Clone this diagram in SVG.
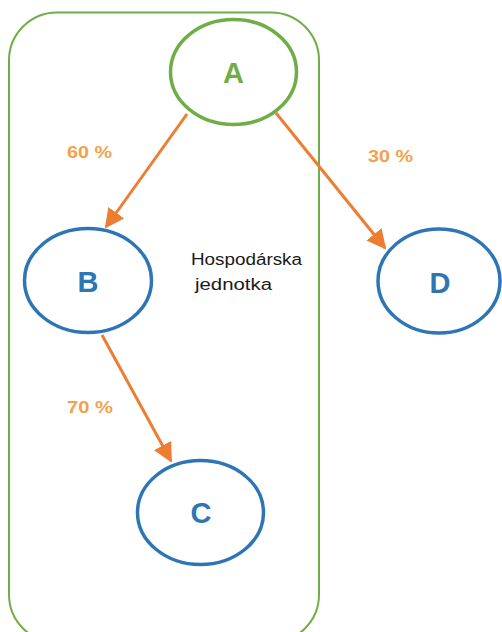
<svg xmlns="http://www.w3.org/2000/svg" width="502" height="632" viewBox="0 0 502 632">
<style>
.node-a{fill:#fff;stroke:#70AD47;stroke-width:3.5}
.node-b{fill:#fff;stroke:#2E75B6;stroke-width:3.5}
.lt{font-family:"Liberation Sans",Arial,sans-serif;font-weight:bold;font-size:29px;text-anchor:middle}
.pct{font-family:"Liberation Sans",Arial,sans-serif;font-weight:bold;font-size:17px;fill:#F5A04A}
.note{font-family:"Liberation Sans",Arial,sans-serif;font-size:16px;fill:#1a1a1a}
.edge{stroke:#ED7D31;stroke-width:3;fill:none;marker-end:url(#arr)}
</style>
<defs>
<marker id="arr" viewBox="0 0 10 10" refX="9" refY="5" markerWidth="6.5" markerHeight="6.5" markerUnits="strokeWidth" orient="auto">
<path d="M0,0 L10,5 L0,10 z" fill="#ED7D31"/>
</marker>
</defs>
<rect width="502" height="632" fill="#fff"/>
<g id="unit">
<rect x="9" y="12.5" width="310" height="630" rx="48" ry="48" fill="none" stroke="#70AD47" stroke-width="2"/>
<text class="note" x="191" y="265" textLength="111" lengthAdjust="spacingAndGlyphs">Hospodárska</text>
<text class="note" x="195" y="290" textLength="77" lengthAdjust="spacingAndGlyphs">jednotka</text>
</g>
<g id="connectors">
<line class="edge" x1="187" y1="114" x2="106" y2="227"/>
<line class="edge" x1="276" y1="113" x2="385" y2="248"/>
<line class="edge" x1="102" y1="335" x2="171" y2="461"/>
<text class="pct" x="67" y="158" textLength="45" lengthAdjust="spacingAndGlyphs">60 %</text>
<text class="pct" x="368" y="162" textLength="45" lengthAdjust="spacingAndGlyphs">30 %</text>
<text class="pct" x="67" y="413" textLength="46" lengthAdjust="spacingAndGlyphs">70 %</text>
</g>
<g id="A">
<ellipse class="node-a" cx="233.5" cy="72" rx="63" ry="52.5"/>
<text class="lt" x="233.5" y="83" fill="#70AD47">A</text>
</g>
<g id="B">
<ellipse class="node-b" cx="88" cy="280.5" rx="63.5" ry="52"/>
<text class="lt" x="88" y="292" fill="#2E75B6">B</text>
</g>
<g id="D">
<ellipse class="node-b" cx="439" cy="281" rx="61" ry="52"/>
<text class="lt" x="440" y="293" fill="#2E75B6">D</text>
</g>
<g id="C">
<ellipse class="node-b" cx="200.5" cy="512.5" rx="63" ry="52"/>
<text class="lt" x="201" y="523" fill="#2E75B6">C</text>
</g>
</svg>
